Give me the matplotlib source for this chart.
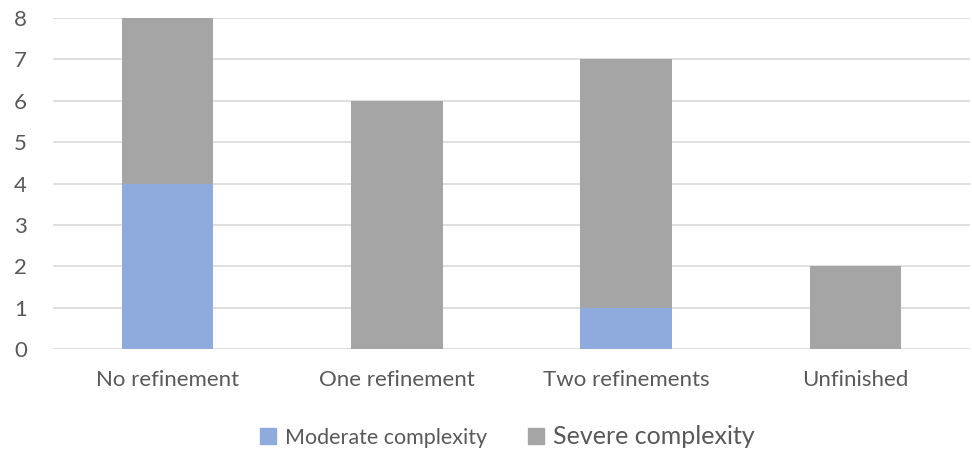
import matplotlib.pyplot as plt
import numpy as np
from matplotlib.patches import Patch

# data
categories = ['No refinement', 'One refinement', 'Two refinements', 'Unfinished']
moderate = [4, 0, 1, 0]
severe = [4, 6, 6, 2]

c_mod = '#8FAADC'
c_sev = '#A5A5A5'
txt = '#595959'

plt.rcParams['font.family'] = ['Lato', 'DejaVu Sans']

fig = plt.figure(figsize=(9.72, 4.5), dpi=100)
ax = fig.add_axes([0.0545, 0.2244, 0.9435, 0.7356])

ind = np.arange(len(categories))
width = 0.4
ax.bar(ind, moderate, width, color=c_mod, zorder=3)
ax.bar(ind, severe, width, bottom=moderate, color=c_sev, zorder=3)

ax.set_xlim(-0.5, len(categories) - 0.5)
ax.set_ylim(0, 8)
ax.set_yticks(range(0, 9))
ax.set_xticks(ind)
ax.set_xticklabels(categories)
ax.tick_params(axis='both', length=0, labelsize=16, colors=txt)
ax.tick_params(axis='y', pad=28)
ax.tick_params(axis='x', pad=15)
for lbl in ax.get_yticklabels():
    lbl.set_horizontalalignment('left')
ax.grid(axis='y', color='#D9D9D9', linewidth=1.2, zorder=0)
for s in ax.spines.values():
    s.set_visible(False)
ax.set_facecolor('none')

# legend
handles = [Patch(color=c_mod), Patch(color=c_sev)]
leg = fig.legend(handles, ['Moderate complexity', 'Severe complexity'], loc='center',
                 bbox_to_anchor=(0.522, 0.031), ncol=2, frameon=False,
                 handlelength=0.75, handleheight=0.75, handletextpad=0.4,
                 columnspacing=1.9, prop={'size': 15.5})
for t in leg.get_texts():
    t.set_color(txt)
leg.get_texts()[1].set_fontsize(18)

plt.savefig('out.png', dpi=100)
